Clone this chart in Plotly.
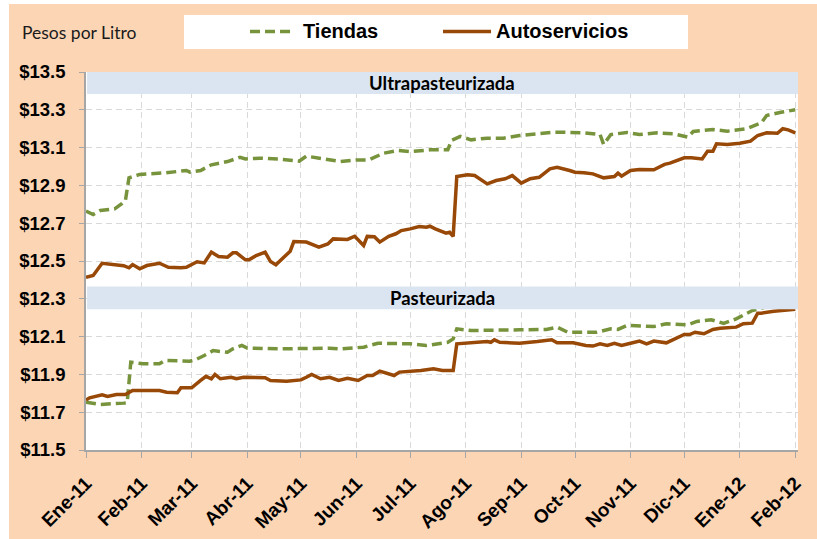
import pandas as pd
import plotly.graph_objects as go

BASE = "2011-01-01"

# Ultrapasteurizada - Tiendas (day offsets from 2011-01-01, price)
tu_days = [0, 4, 8, 16, 20, 22, 24, 30, 36, 44, 56, 58, 64, 70, 79, 86, 89, 97, 108, 119, 123, 134,
           142, 151, 158, 166, 174, 181, 192, 202, 204, 209, 215, 224, 233, 242, 252, 261, 269, 278,
           287, 289, 293, 302, 309, 319, 328, 336, 339, 350, 358, 369, 377, 380, 388, 396]
tu_vals = [12.764, 12.746, 12.767, 12.776, 12.803, 12.82, 12.94, 12.958, 12.962, 12.966, 12.979, 12.97,
           12.979, 13.009, 13.026, 13.049, 13.04, 13.044, 13.039, 13.028, 13.055, 13.037,
           13.026, 13.035, 13.035, 13.07, 13.085, 13.079, 13.088, 13.088, 13.138, 13.159, 13.141,
           13.15, 13.15, 13.164, 13.173, 13.181, 13.181, 13.178,
           13.169, 13.116, 13.169, 13.18, 13.169, 13.178, 13.173, 13.155, 13.185, 13.196, 13.187,
           13.2, 13.231, 13.27, 13.287, 13.3]

# Ultrapasteurizada - Autoservicios
au_days = [0, 4, 9, 13, 21, 24, 26, 30, 34, 41, 46, 53, 56, 62, 66, 70, 74, 79, 82, 84, 89, 91, 95,
           100, 103, 106, 114, 116, 123, 130, 135, 138, 146, 150, 155, 157, 161, 164, 169, 173, 176,
           181, 186, 190, 192, 195, 201, 203, 205, 207, 213, 217, 224, 229, 234, 238, 243, 248, 253,
           259, 263, 270, 273, 278, 283, 289, 295, 297, 299, 304, 309, 317, 323, 326, 334, 338, 344,
           347, 350, 352, 358, 365, 371, 375, 380, 386, 389, 392, 396]
au_vals = [12.414, 12.423, 12.488, 12.485, 12.475, 12.464, 12.481, 12.459, 12.476, 12.488, 12.467,
           12.464, 12.467, 12.496, 12.49, 12.547, 12.524, 12.52, 12.543, 12.543, 12.506, 12.506,
           12.529, 12.547, 12.497, 12.48, 12.552, 12.603, 12.6, 12.573, 12.59, 12.617, 12.614,
           12.631, 12.582, 12.63, 12.628, 12.6, 12.631, 12.644, 12.661, 12.67, 12.682, 12.679,
           12.684, 12.67, 12.647, 12.652, 12.63, 12.947, 12.956, 12.952, 12.908, 12.926, 12.935,
           12.952, 12.912, 12.935, 12.943, 12.988, 12.996, 12.979, 12.97, 12.967, 12.961, 12.94,
           12.947, 12.965, 12.949, 12.979, 12.984, 12.983, 13.011, 13.018, 13.046, 13.046, 13.04,
           13.081, 13.081, 13.12, 13.116, 13.123, 13.134, 13.164, 13.178, 13.176, 13.2, 13.194,
           13.178]

# Pasteurizada - Tiendas
tp_days = [0, 8, 21, 23, 25, 32, 41, 44, 58, 61, 66, 71, 79, 82, 87, 90, 108, 136, 142, 155, 163,
           174, 181, 190, 202, 205, 207, 215, 228, 242, 257, 263, 269, 285, 293, 297, 302, 317, 324,
           336, 341, 349, 352, 356, 363, 369, 372, 385, 396]
tp_vals = [11.753, 11.741, 11.748, 11.75, 11.965, 11.956, 11.956, 11.974, 11.97, 11.977, 12.0,
           12.026, 12.017, 12.035, 12.053, 12.039, 12.035, 12.039, 12.035, 12.044, 12.065, 12.062,
           12.062, 12.053, 12.07, 12.088, 12.141, 12.132, 12.136, 12.136, 12.138, 12.15, 12.123,
           12.123, 12.141, 12.138, 12.159, 12.153, 12.168, 12.162, 12.18, 12.189, 12.181, 12.17,
           12.194, 12.22, 12.238, 12.27, 12.30]

# Pasteurizada - Autoservicios
ap_days = [0, 2, 9, 12, 17, 22, 26, 41, 45, 51, 53, 59, 64, 67, 70, 72, 75, 81, 84, 88, 100, 103,
           112, 120, 123, 126, 131, 136, 141, 146, 152, 157, 160, 164, 172, 175, 187, 194, 199, 205,
           207, 218, 224, 226, 228, 231, 242, 252, 260, 263, 272, 279, 283, 287, 291, 295, 299, 304,
           309, 313, 317, 324, 330, 334, 337, 340, 345, 350, 354, 363, 367, 372, 375, 377, 384, 393,
           396]
ap_vals = [11.765, 11.776, 11.792, 11.783, 11.794, 11.794, 11.815, 11.815, 11.806, 11.803, 11.829,
           11.829, 11.868, 11.89, 11.877, 11.9, 11.877, 11.885, 11.877, 11.885, 11.882, 11.868,
           11.864, 11.871, 11.885, 11.9, 11.877, 11.885, 11.868, 11.88, 11.868, 11.894, 11.894,
           11.917, 11.894, 11.912, 11.921, 11.93, 11.921, 11.921, 12.062, 12.07, 12.074, 12.07,
           12.083, 12.07, 12.065, 12.074, 12.083, 12.067, 12.067, 12.053, 12.05, 12.062, 12.053,
           12.065, 12.053, 12.065, 12.076, 12.062, 12.076, 12.067, 12.094, 12.111, 12.111, 12.123,
           12.115, 12.138, 12.144, 12.15, 12.168, 12.171, 12.224, 12.224, 12.234, 12.242, 12.245]

month_ticks = ["2011-01-01", "2011-02-01", "2011-03-01", "2011-04-01", "2011-05-01", "2011-06-01",
               "2011-07-01", "2011-08-01", "2011-09-01", "2011-10-01", "2011-11-01", "2011-12-01",
               "2012-01-01", "2012-02-01"]
month_labels = ["Ene-11", "Feb-11", "Mar-11", "Abr-11", "May-11", "Jun-11", "Jul-11", "Ago-11",
                "Sep-11", "Oct-11", "Nov-11", "Dic-11", "Ene-12", "Feb-12"]
series_names = ["Tiendas", "Autoservicios"]
panel_titles = ["Ultrapasteurizada", "Pasteurizada"]


def to_dates(days):
    return pd.Timestamp(BASE) + pd.to_timedelta(days, unit="D")


GREEN = "#77933C"
BROWN = "#984807"
PEACH = "#FCD5B4"
HEADER = "#DBE5F1"
GRID = "#D9D9D9"
AXIS = "#A6A6A6"

W, H = 817, 539
L, R, T, B = 86, 19, 72, 89
PW, PH = W - L - R, H - T - B


def px(x):
    return (x - L) / PW


def py(y):
    return (H - B - y) / PH


fig = go.Figure()
green_line = dict(color=GREEN, width=3.5, dash="10px,5px")
brown_line = dict(color=BROWN, width=3.5)
fig.add_trace(go.Scatter(x=to_dates(tu_days), y=tu_vals, mode="lines", name=series_names[0],
                         line=green_line, showlegend=False))
fig.add_trace(go.Scatter(x=to_dates(au_days), y=au_vals, mode="lines", name=series_names[1],
                         line=brown_line, showlegend=False))
fig.add_trace(go.Scatter(x=to_dates(tp_days), y=tp_vals, mode="lines", name=series_names[0],
                         line=green_line, showlegend=False))
fig.add_trace(go.Scatter(x=to_dates(ap_days), y=ap_vals, mode="lines", name=series_names[1],
                         line=brown_line, showlegend=False))

shapes = []
annotations = []
# panel headers
for (y0, y1, ym, title) in [(13.383, 13.5, 13.442, panel_titles[0]),
                            (12.245, 12.365, 12.305, panel_titles[1])]:
    shapes.append(dict(type="rect", xref="paper", yref="y", x0=0.0015, x1=1, y0=y0, y1=y1,
                       fillcolor=HEADER, line=dict(width=0), layer="above"))
    annotations.append(dict(text="<b>%s</b>" % title, xref="paper", yref="y", x=0.5, y=ym,
                            showarrow=False, font=dict(family="Lato", size=18.5, color="#000000"),
                            xanchor="center", yanchor="middle"))

# white outer border strips
shapes.append(dict(type="rect", xref="paper", yref="paper", x0=px(-2), x1=px(9), y0=py(H + 2), y1=py(-2),
                   fillcolor="white", line=dict(width=0), layer="above"))
shapes.append(dict(type="rect", xref="paper", yref="paper", x0=px(-2), x1=px(W + 2), y0=py(4), y1=py(-2),
                   fillcolor="white", line=dict(width=0), layer="above"))

# legend box
shapes.append(dict(type="rect", xref="paper", yref="paper", x0=px(184), x1=px(688), y0=py(49), y1=py(15),
                   fillcolor="white", line=dict(width=0), layer="above"))
shapes.append(dict(type="line", xref="paper", yref="paper", x0=px(250), x1=px(291), y0=py(31.5), y1=py(31.5),
                   line=dict(color=GREEN, width=3.5, dash="10px,5px"), layer="above"))
shapes.append(dict(type="line", xref="paper", yref="paper", x0=px(443), x1=px(491), y0=py(31.5), y1=py(31.5),
                   line=dict(color=BROWN, width=3.5), layer="above"))
annotations.append(dict(text="<b>%s</b>" % series_names[0], xref="paper", yref="paper", x=px(301), y=py(31.5),
                        showarrow=False, xanchor="left", yanchor="middle",
                        font=dict(family="Liberation Sans, Arial", size=20, color="#000000")))
annotations.append(dict(text="<b>%s</b>" % series_names[1], xref="paper", yref="paper", x=px(494), y=py(31.5),
                        showarrow=False, xanchor="left", yanchor="middle",
                        font=dict(family="Liberation Sans, Arial", size=20, color="#000000")))
annotations.append(dict(text="Pesos por Litro", xref="paper", yref="paper", x=px(20), y=py(32),
                        showarrow=False, xanchor="left", yanchor="middle",
                        font=dict(family="Lato", size=17.5, color="#1a1a1a")))

fig.update_layout(
    width=W, height=H,
    margin=dict(l=L, r=R, t=T, b=B, pad=0, autoexpand=False),
    paper_bgcolor=PEACH, plot_bgcolor="white",
    shapes=shapes, annotations=annotations,
    showlegend=False,
    font=dict(family="Liberation Sans, Arial", color="#000000"),
)
fig.update_xaxes(
    type="date", range=["2011-01-01", "2012-02-02 12:00"], automargin=False,
    tickvals=month_ticks, ticktext=["<b>%s</b>" % t for t in month_labels],
    tickangle=-45, tickfont=dict(size=19, family="Liberation Sans, Arial", color="#000000"),
    ticks="outside", ticklen=6, tickcolor=AXIS, tickwidth=1, ticklabelstandoff=7,
    showline=True, linecolor=AXIS, linewidth=1.5,
    showgrid=True, gridcolor=GRID, griddash="6px,4px", gridwidth=1,
    zeroline=False,
)
fig.update_yaxes(
    range=[11.5, 13.5], dtick=0.2, tick0=11.5, tickformat=".1f", tickprefix="<b>$", ticksuffix="</b>",
    automargin=False,
    tickfont=dict(size=18.5, family="Liberation Sans, Arial", color="#000000"),
    ticks="outside", ticklen=5, tickcolor=AXIS, tickwidth=1,
    showline=True, linecolor=AXIS, linewidth=1.5,
    showgrid=True, gridcolor=GRID, griddash="6px,4px", gridwidth=1,
    zeroline=False, ticklabelstandoff=10,
)

fig.write_html("out.html", config={"displayModeBar": False},
               post_script="document.body.style.margin='0px';")
